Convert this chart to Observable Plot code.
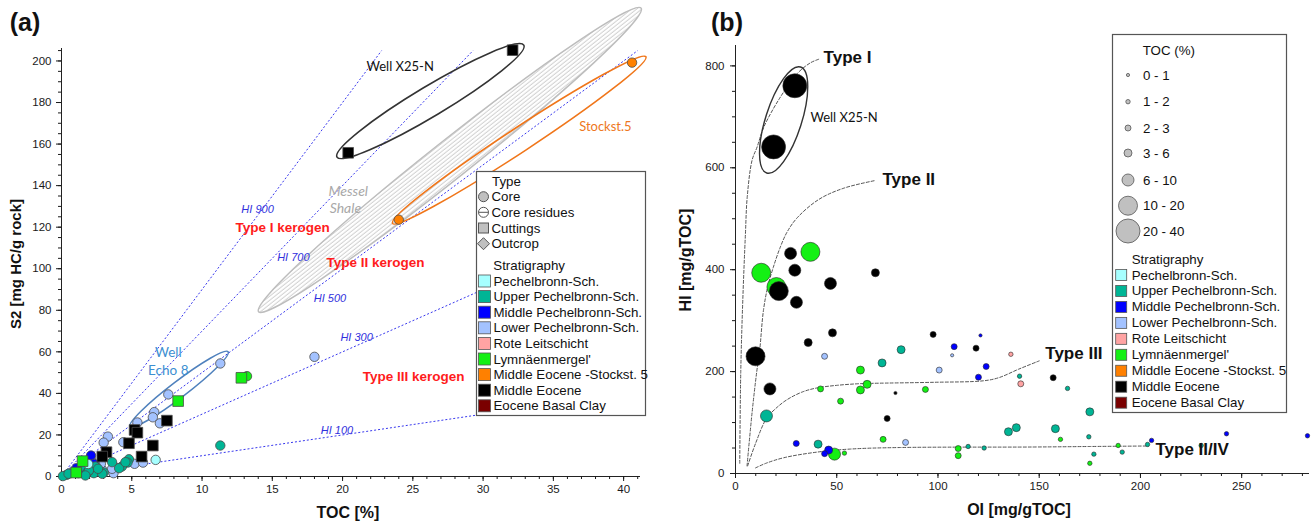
<!DOCTYPE html>
<html><head><meta charset="utf-8">
<script src="https://cdn.jsdelivr.net/npm/d3@7"></script>
<script src="https://cdn.jsdelivr.net/npm/@observablehq/plot@0.6"></script>
<style>
body{margin:0;background:#fff;}
#wrap{position:relative;width:1314px;height:528px;overflow:hidden;background:#fff;font-family:"Liberation Sans",Arial,sans-serif;}
#pa{position:absolute;left:0;top:0;}
#pb{position:absolute;left:660px;top:0;}
#ov{position:absolute;left:0;top:0;pointer-events:none;}
</style></head><body><div id="wrap"><div id="pa"></div><div id="pb"></div></div>
<script>
// ---------- categories ----------
const stratCodes = ["PS","UPS","MPS","LPS","RL","LY","MES5","ME","EBC"];
const stratNames = ["Pechelbronn-Sch.","Upper Pechelbronn-Sch.","Middle Pechelbronn-Sch.","Lower Pechelbronn-Sch.","Rote Leitschicht","Lymnäenmergel'","Middle Eocene -Stockst. 5","Middle Eocene","Eocene Basal Clay"];
const stratColors = ["#a6ffff","#00b595","#0000ff","#a3c2ff","#ffa3a3","#14f014","#ff8000","#000000","#7a0000"];
const typeNames = ["Core","Core residues","Cuttings","Outcrop"];
const tocClasses = ["0 - 1","1 - 2","2 - 3","3 - 6","6 - 10","10 - 20","20 - 40"];
const hiLines = [900,700,500,300,100];

// ---------- panel (a): TOC [%], S2, stratigraphy ----------
const coreA = [
 [11.3,54.4,"LPS"],[18.0,57.6,"LPS"],[7.6,39.5,"LPS"],[6.6,31.0,"LPS"],[6.5,28.5,"LPS"],[7.0,25.6,"LPS"],[5.4,26.0,"LPS"],
 [3.3,19.2,"LPS"],[3.0,16.3,"LPS"],[4.4,16.5,"LPS"],[5.2,6.1,"LPS"],[5.8,6.7,"LPS"],[3.7,5.1,"LPS"],[3.7,1.6,"LPS"],
 [2.9,3.2,"LPS"],[2.8,6.1,"LPS"],[2.1,8.0,"LPS"],[1.7,6.4,"LPS"],[0.6,1.6,"LPS"],[2.4,5.6,"LPS"],[3.6,3.7,"LPS"],
 [2.1,10.1,"MPS"],[1.07,4.0,"MPS"],[1.55,5.6,"MPS"],[1.83,4.5,"MPS"],[1.35,2.9,"MPS"],[1.2,1.6,"MPS"],[2.3,6.1,"MPS"],
 [11.3,14.9,"UPS"],[4.8,8.3,"UPS"],[4.7,6.7,"UPS"],[4.3,4.8,"UPS"],[4.1,4.0,"UPS"],[2.3,1.6,"UPS"],[3.0,1.9,"UPS"],
 [0.36,0.8,"UPS"],[0.1,0.2,"UPS"],[0.5,1.3,"UPS"],[1.7,4.3,"UPS"],[1.9,2.4,"UPS"],[2.4,4.8,"UPS"],[1.95,2.9,"UPS"],
 [2.9,1.3,"UPS"],[1.7,0.5,"UPS"],[3.6,6.9,"UPS"],[4.55,6.9,"UPS"],[2.6,3.7,"UPS"],
 [6.7,8.0,"PS"],[1.9,6.0,"PS"],
 [13.2,48.3,"LY"],
 [24.0,123.6,"MES5"],[40.6,199.2,"MES5"]
];
const cuttingsA = [
 [20.4,155.8,"ME"],[32.1,205.2,"ME"],[7.5,26.9,"ME"],[5.2,22.4,"ME"],[5.4,21.1,"ME"],[4.8,16.0,"ME"],[6.5,14.9,"ME"],
 [3.2,11.7,"ME"],[2.9,9.6,"ME"],[5.7,9.6,"ME"],
 [12.8,47.5,"LY"],[8.3,36.3,"LY"],[1.5,7.4,"LY"],[1.05,1.9,"LY"]
];

// ---------- panel (b): OI, HI, TOC class, stratigraphy ----------
const pyroB = [
 [29.3,761,"20 - 40","ME"],[18.8,641,"20 - 40","ME"],
 [37,435,"10 - 20","LY"],[12.7,394,"10 - 20","LY"],[20.2,366,"10 - 20","LY"],[21.4,358,"10 - 20","ME"],[9.9,230,"10 - 20","ME"],
 [27.2,432,"6 - 10","ME"],[29.3,399,"6 - 10","ME"],[46.9,373,"6 - 10","ME"],[30.1,336,"6 - 10","ME"],[17.0,166,"6 - 10","ME"],
 [15.3,113,"6 - 10","UPS"],[48.9,38,"6 - 10","LY"],
 [69.1,394,"3 - 6","ME"],[47.9,276,"3 - 6","ME"],[35.9,257,"3 - 6","ME"],
 [61.7,203,"3 - 6","LY"],[61.7,164,"3 - 6","LY"],[65,175,"3 - 6","LY"],
 [81.8,243,"3 - 6","UPS"],[72.4,217,"3 - 6","UPS"],[40.8,57.6,"3 - 6","UPS"],[134.8,82,"3 - 6","UPS"],[138.7,90,"3 - 6","UPS"],
 [158,88,"3 - 6","UPS"],[175,121,"3 - 6","UPS"],[46,46,"3 - 6","MPS"],
 [74.9,108,"2 - 3","ME"],[97.6,273,"2 - 3","ME"],[118.8,246,"2 - 3","ME"],[156.9,188,"2 - 3","ME"],
 [42,166,"2 - 3","LY"],[51.9,142,"2 - 3","LY"],[93.8,165,"2 - 3","LY"],[72.9,67,"2 - 3","LY"],[110,49,"2 - 3","LY"],[110,35,"2 - 3","LY"],
 [30,59,"2 - 3","MPS"],[44,39,"2 - 3","MPS"],[108,249,"2 - 3","MPS"],[123.8,210,"2 - 3","MPS"],[120,189,"2 - 3","MPS"],
 [44,230,"2 - 3","LPS"],[100.6,203,"2 - 3","LPS"],[84,61,"2 - 3","LPS"],
 [140.9,176,"2 - 3","RL"],
 [53.8,40,"1 - 2","LY"],[160.5,67,"1 - 2","LY"],[175,20,"1 - 2","LY"],[189,55,"1 - 2","LY"],
 [114.9,53,"1 - 2","UPS"],[122.8,50,"1 - 2","UPS"],[140.3,191,"1 - 2","UPS"],[164,167,"1 - 2","UPS"],[174.5,72,"1 - 2","UPS"],
 [177,38,"1 - 2","UPS"],[191,42,"1 - 2","UPS"],[203.5,57,"1 - 2","UPS"],[230,55,"1 - 2","UPS"],
 [205.5,65,"1 - 2","MPS"],[242.5,78,"1 - 2","MPS"],[282.5,74,"1 - 2","MPS"],
 [136,234,"1 - 2","RL"],
 [79,158,"0 - 1","ME"],[121,271,"0 - 1","MPS"],[107,232,"0 - 1","LPS"]
];

// ---------- kerogen type curves (OI, HI) ----------
const curveTypeI = [[2.1,20],[2.6,200],[3.6,340],[4.9,470],[5.8,543],[8.2,615],[10.7,641],[14,680],[22.2,739],[30.5,785],[37,806],[41.1,813]];
const curveTypeII = [[5.7,15],[8.2,120],[10.5,200],[11.9,240],[13.8,320],[16,368],[18.7,405],[22,443],[25.5,474],[30.5,502],[41.2,538],[53.5,560],[69,575]];
const curveTypeIII = [[6,15],[10,60],[15.3,108],[20,128],[25.5,145],[33,160],[40.3,168],[50,173],[60,176],[68,177],[98,179],[122.6,182],[130,188],[140,205],[150,221]];
const curveTypeIV = [[9.9,11],[15,20],[23.9,31],[40.3,42],[56.8,48],[81.5,51],[147,52],[175,53],[204,54]];

// ---------- annotation texts ----------
const hiLabelsA = [["HI 900",13.95,128.5],["HI 700",16.5,105.5],["HI 500",19.1,85.8],["HI 300",21.0,66.9],["HI 100",19.6,22.1]];
const kerogenLabelsA = [["Type I kerogen",15.73,119.8],["Type II kerogen",22.35,103],["Type III kerogen",25.05,48.1]];
const typeLabelsB = [["Type I",43.5,817],["Type II",72.6,576],["Type III",153,236],["Type II/IV",207.4,47]];

// ellipse annotations: ends of major axis (data units) + half-width in px
const ellipsesA = [
 {x1:14.06,y1:79.07,x2:41.28,y2:225.2, ry:19, stroke:"#bdbdbd", fill:"url(#hatchA)", sw:1.5},
 {x1:19.64,y1:153.5,x2:32.93,y2:207.4, ry:15, stroke:"#333333", fill:"none", sw:1.6},
 {x1:23.59,y1:121.6,x2:41.62,y2:201.8, ry:12, stroke:"#f0761a", fill:"none", sw:1.6},
 {x1:4.91,y1:23.7,x2:11.89,y2:59.8, ry:8, stroke:"#4f81bd", fill:"none", sw:1.5}
];
const ellipsesB = [
 {x1:15.65,y1:588.8,x2:32.4,y2:796.8, ry:18, stroke:"#333333", fill:"none", sw:1.4}
];

const colorOf = c => stratColors[stratCodes.indexOf(c)];
const radiiB = [1.6,2.2,3.0,4.0,6.0,9.5,12];
const FONT = "Liberation Sans, Arial, sans-serif";

function ellipseMark(specs, withHatch) {
  return (index, scales) => {
    const g = d3.create("svg:g");
    if (withHatch) {
      const p = g.append("defs").append("pattern").attr("id","hatchA")
        .attr("patternUnits","userSpaceOnUse").attr("width",8).attr("height",3.2);
      p.append("line").attr("x1",0).attr("x2",8).attr("y1",1).attr("y2",1)
        .attr("stroke","#b8b8b8").attr("stroke-width",0.75);
    }
    for (const s of specs) {
      const ax = scales.x(s.x1), ay = scales.y(s.y1), bx = scales.x(s.x2), by = scales.y(s.y2);
      const cx = (ax+bx)/2, cy = (ay+by)/2;
      const rx = Math.hypot(bx-ax, by-ay)/2;
      const ang = Math.atan2(by-ay, bx-ax)*180/Math.PI;
      g.append("ellipse").attr("cx",cx).attr("cy",cy).attr("rx",rx).attr("ry",s.ry)
        .attr("transform",`rotate(${ang} ${cx} ${cy})`)
        .attr("fill",s.fill).attr("stroke",s.stroke).attr("stroke-width",s.sw);
    }
    return g.node();
  };
}

// ---------- Plot (a) ----------
const plotA = Plot.plot({
  width:660, height:528, marginLeft:61, marginRight:20, marginTop:48, marginBottom:52,
  x:{domain:[0,41.2], label:null}, y:{domain:[0,206], label:null},
  color:{type:"identity"},
  style:{fontFamily:FONT, fontSize:"11.5px", color:"#1a1a1a", background:"transparent", overflow:"visible"},
  marks:[
    ellipseMark([ellipsesA[0]], true),
    Plot.link(hiLines, {x1:0, y1:0, x2:h => Math.min(41.2, 20500/h), y2:h => Math.min(41.2, 20500/h)*h/100,
      stroke:"#3838ee", strokeWidth:1, strokeDasharray:"2,2"}),
    ellipseMark(ellipsesA.slice(1), false),
    Plot.ruleY([0], {stroke:"#222"}), Plot.ruleX([0], {stroke:"#222"}),
    Plot.axisX({ticks:d3.range(0,42,1), tickSize:3, tickFormat:() => "", label:null}),
    Plot.axisY({ticks:d3.range(0,206,5), tickSize:3, tickFormat:() => "", label:null}),
    Plot.axisX({ticks:d3.range(0,41,5), tickSize:5, tickPadding:3, label:null, fontSize:11.5}),
    Plot.axisY({ticks:d3.range(0,201,20), tickSize:5, tickPadding:5, label:null, fontSize:11.5}),
    Plot.text(hiLabelsA, {x:d=>d[1], y:d=>d[2], text:d=>d[0], fill:"#3030dd", fontStyle:"italic", fontSize:11}),
    Plot.text(kerogenLabelsA, {x:d=>d[1], y:d=>d[2], text:d=>d[0], fill:"#ff1c1c", fontWeight:"bold", fontSize:13.5}),
    Plot.text(["Well X25-N"], {x:24.1, y:197.3, text:d=>d, fill:"#111", fontFamily:"Lato", fontSize:13}),
    Plot.text(["Stockst.5"], {x:38.7, y:168.5, text:d=>d, fill:"#ee7722", fontFamily:"Lato", fontSize:13}),
    Plot.text(["Messel","Shale"], {x:[20.4,20.2], y:[137.2,129], text:d=>d, fill:"#a8a8a8", fontFamily:"Lato", fontStyle:"italic", fontSize:14}),
    Plot.text(["Well","Echo 8"], {x:[7.6,7.6], y:[59.7,51], text:d=>d, fill:"#3d8fd1", fontFamily:"Lato", fontSize:13.5}),
    Plot.dot(coreA, {x:d=>d[0], y:d=>d[1], r:4.7, fill:d=>colorOf(d[2]), stroke:"#4a4a4a", strokeWidth:0.8}),
    Plot.dot(cuttingsA, {x:d=>d[0], y:d=>d[1], r:6.0, symbol:"square", fill:d=>colorOf(d[2]), stroke:"#4a4a4a", strokeWidth:0.8})
  ]
});
document.getElementById("pa").appendChild(plotA);

// ---------- Plot (b) ----------
const dotMarksB = tocClasses.map((c,i) => i).reverse().map(i =>
  Plot.dot(pyroB.filter(d => d[2] === tocClasses[i]), {x:d=>d[0], y:d=>d[1], r:radiiB[i],
    fill:d=>colorOf(d[3]), stroke:"#262626", strokeWidth:0.6}));
const curveOpts = {x:d=>d[0], y:d=>d[1], stroke:"#555", strokeWidth:1, strokeDasharray:"3,2", curve:"catmull-rom"};
const plotB = Plot.plot({
  width:654, height:528, marginLeft:75, marginRight:5, marginTop:45, marginBottom:55,
  x:{domain:[0,283.5], label:null}, y:{domain:[0,840], label:null},
  color:{type:"identity"},
  style:{fontFamily:FONT, fontSize:"11.5px", color:"#1a1a1a", background:"transparent", overflow:"visible"},
  marks:[
    Plot.line(curveTypeI, curveOpts), Plot.line(curveTypeII, curveOpts),
    Plot.line(curveTypeIII, curveOpts), Plot.line(curveTypeIV, curveOpts),
    ellipseMark(ellipsesB, false),
    Plot.ruleY([0], {stroke:"#222"}), Plot.ruleX([0], {stroke:"#222"}),
    Plot.axisX({ticks:d3.range(0,284,10), tickSize:3, tickFormat:() => "", label:null}),
    Plot.axisY({ticks:d3.range(0,841,50), tickSize:3, tickFormat:() => "", label:null}),
    Plot.axisX({ticks:d3.range(0,251,50), tickSize:5, tickPadding:3, label:null, fontSize:11.5}),
    Plot.axisY({ticks:d3.range(0,801,200), tickSize:5, tickPadding:6, label:null, fontSize:11.5}),
    ...dotMarksB,
    Plot.text(typeLabelsB, {x:d=>d[1], y:d=>d[2], text:d=>d[0], textAnchor:"start", fill:"#111",
      fontFamily:"Liberation Sans Narrow, Liberation Sans, Arial", fontWeight:"bold", fontSize:17}),
    Plot.text(["Well X25-N"], {x:37, y:699, text:d=>d, textAnchor:"start", fill:"#111", fontFamily:"Lato", fontSize:13})
  ]
});
document.getElementById("pb").appendChild(plotB);

// ---------- overlay: panel letters, axis titles, legends ----------
const ov = d3.select("#wrap").append("svg").attr("id","ov").attr("width",1314).attr("height",528)
  .style("font-family",FONT);
function txt(g, s, x, y, o = {}) {
  return g.append("text").attr("x",x).attr("y",y).attr("dominant-baseline","central")
    .attr("font-size",o.size || 13.3).attr("font-weight",o.weight || "normal")
    .attr("text-anchor",o.anchor || "start").attr("fill",o.fill || "#111")
    .attr("transform",o.rot ? `rotate(-90 ${x} ${y})` : null).text(s);
}
txt(ov,"(a)",25,22,{size:25,weight:"bold",anchor:"middle"});
txt(ov,"(b)",727,22,{size:25,weight:"bold",anchor:"middle"});
txt(ov,"S2 [mg HC/g rock]",15,264,{size:15,weight:"bold",anchor:"middle",rot:true});
txt(ov,"TOC [%]",348,512,{size:16,weight:"bold",anchor:"middle"});
txt(ov,"HI [mg/gTOC]",685,260,{size:16,weight:"bold",anchor:"middle",rot:true});
txt(ov,"OI [mg/gTOC]",1019,509,{size:16,weight:"bold",anchor:"middle"});

// legend (a)
const la = ov.append("g");
la.append("rect").attr("x",476.5).attr("y",171.5).attr("width",169).attr("height",244)
  .attr("fill","#fff").attr("stroke","#555").attr("stroke-width",1.2);
txt(la,"Type",492,181);
const typeY = [196.7,212.3,228,243.7];
typeNames.forEach((n,i) => {
  const cx = 483.5, cy = typeY[i];
  if (i === 0) la.append("circle").attr("cx",cx).attr("cy",cy).attr("r",5).attr("fill","#c0c0c0").attr("stroke","#555");
  if (i === 1) {
    la.append("circle").attr("cx",cx).attr("cy",cy).attr("r",5).attr("fill","#fff").attr("stroke","#555");
    la.append("line").attr("x1",cx-5).attr("x2",cx+5).attr("y1",cy).attr("y2",cy).attr("stroke","#555");
  }
  if (i === 2) la.append("rect").attr("x",cx-5).attr("y",cy-5).attr("width",10).attr("height",10).attr("fill","#c0c0c0").attr("stroke","#555");
  if (i === 3) la.append("path").attr("d",`M${cx-6},${cy}L${cx},${cy-6}L${cx+6},${cy}L${cx},${cy+6}Z`).attr("fill","#c0c0c0").attr("stroke","#555");
  txt(la,n,491.5,cy);
});
txt(la,"Stratigraphy",493.3,265);
stratNames.forEach((n,i) => {
  const cy = 281 + i*15.6;
  la.append("rect").attr("x",478.5).attr("y",cy-6).attr("width",12).attr("height",12)
    .attr("fill",stratColors[i]).attr("stroke","#555").attr("stroke-width",0.8);
  txt(la,n,493.5,cy);
});

// legend (b)
const lb = ov.append("g");
lb.append("rect").attr("x",1112.5).attr("y",34.5).attr("width",174).attr("height",378)
  .attr("fill","#fff").attr("stroke","#555").attr("stroke-width",1.2);
txt(lb,"TOC (%)",1142.7,50);
const tocY = [75,101.7,128,153,180,205.7,231];
tocClasses.forEach((c,i) => {
  lb.append("circle").attr("cx",1128).attr("cy",tocY[i]).attr("r",radiiB[i])
    .attr("fill","#c0c0c0").attr("stroke","#555").attr("stroke-width",0.8);
  txt(lb,c,1143,tocY[i]);
});
txt(lb,"Stratigraphy",1131.7,259);
stratNames.forEach((n,i) => {
  const cy = 275 + i*15.96;
  lb.append("rect").attr("x",1115.7).attr("y",cy-5.5).attr("width",11).attr("height",11)
    .attr("fill",stratColors[i]).attr("stroke","#555").attr("stroke-width",0.8);
  txt(lb,n,1131.7,cy);
});
</script></body></html>
